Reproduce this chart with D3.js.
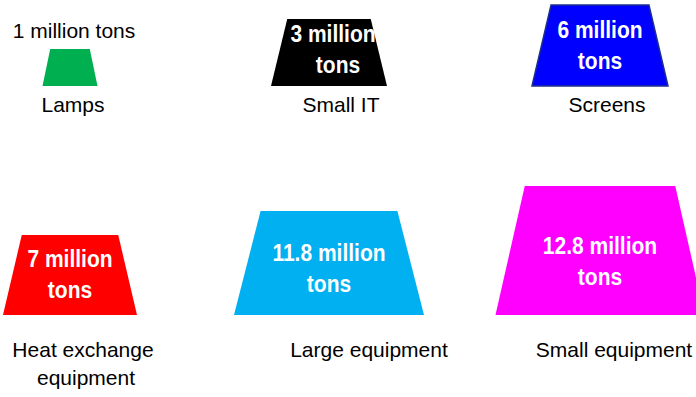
<!DOCTYPE html>
<html>
<head>
<meta charset="utf-8">
<script src="https://cdn.jsdelivr.net/npm/d3@7/dist/d3.min.js"></script>
<style>
	body { margin: 0; background: #fff; }
	text { font-family: "Liberation Sans", Arial, sans-serif; }
</style>
</head>
<body>
<div id="chart"></div>
<script>
// e-waste by category, million tons
var categories = [["Lamps"], ["Small IT"], ["Screens"], ["Heat exchange", "equipment"], ["Large equipment"], ["Small equipment"]];
var tons = [1, 3, 6, 7, 11.8, 12.8];
var colors = ["#00b050", "#000000", "#0000ff", "#ff0000", "#00b0f0", "#ff00ff"];

var width = 696, height = 397;

var svg = d3.select("#chart")
	.append("svg")
	.attr("width", width)
	.attr("height", height)

// grid: 3 columns, 2 rows
var items = tons.map(function (t, i) {
	return { name: categories[i], tons: t, color: colors[i], col: i % 3, row: Math.floor(i / 3) };
});

var colX = d3.scaleOrdinal().domain([0, 1, 2]).range([70, 329, 600]);
var rowBase = d3.scaleOrdinal().domain([0, 1]).range([86, 315]);
var labelX = [d3.scaleOrdinal().domain([0, 1, 2]).range([73, 341, 607]),
	d3.scaleOrdinal().domain([0, 1, 2]).range([83, 369, 614])];
var labelY = d3.scaleOrdinal().domain([0, 1]).range([112, 357]);

// shape size is not strictly proportional in the original, so use a polylinear scale
var hScale = d3.scaleLinear().domain(tons).range([37, 67, 81, 80, 104, 129]);
var wScale = d3.scaleLinear().domain(tons).range([55, 116, 136, 134, 190, 209]);
var topRatio = 0.72;
var stretch = 1.13; // bold labels are drawn a bit taller than wide

function trapezoid(d) {
	var cx = colX(d.col), yb = rowBase(d.row);
	var h = hScale(d.tons), wb = wScale(d.tons), wt = wb * topRatio;
	return "M" + (cx - wt / 2) + "," + (yb - h) +
		"L" + (cx + wt / 2) + "," + (yb - h) +
		"L" + (cx + wb / 2) + "," + yb +
		"L" + (cx - wb / 2) + "," + yb + "Z";
}

var g = svg.append("g")

g.selectAll(".shape")
	.data(items)
	.enter()
	.append("path")
	.attr("class", "shape")
	.attr("d", trapezoid)
	.attr("fill", function (d) { return d.color; })
	.attr("stroke", function (d) { return d.color == "#0000ff" ? "#1c2f8c" : "none"; })
	.attr("stroke-width", 1.5)

// value text: inside the shape, except for the smallest one
var inside = items.filter(function (d) { return d.tons > 1; });
var outside = items.filter(function (d) { return d.tons <= 1; });

var vt = g.selectAll(".value")
	.data(inside)
	.enter()
	.append("text")
	.attr("class", "value")
	.attr("text-anchor", "middle")
	.attr("fill", "#fff")
	.attr("font-weight", "bold")
	.attr("font-size", 21)
	.attr("transform", function (d) {
		var y = rowBase(d.row) - 27 - 0.26 * hScale(d.tons);
		return "translate(" + colX(d.col) + "," + y + ") scale(1," + stretch + ")";
	})

vt.append("tspan")
	.attr("x", function (d) { return d.tons == 3 ? 4 : 0; })
	.text(function (d) { return d.tons + " million"; })
vt.append("tspan")
	.attr("x", function (d) { return d.tons == 3 ? 9 : 0; })
	.attr("dy", 31 / stretch)
	.text("tons")

g.selectAll(".valueOut")
	.data(outside)
	.enter()
	.append("text")
	.attr("class", "valueOut")
	.attr("text-anchor", "middle")
	.attr("font-size", 21)
	.attr("fill", "#000")
	.attr("x", function (d) { return colX(d.col) + 4; })
	.attr("y", function (d) { return rowBase(d.row) - hScale(d.tons) - 11; })
	.text(function (d) { return d.tons + " million tons"; })

// category labels
var lt = g.selectAll(".label")
	.data(items)
	.enter()
	.append("text")
	.attr("class", "label")
	.attr("text-anchor", "middle")
	.attr("font-size", 21)
	.attr("fill", "#000")
	.attr("y", function (d) { return labelY(d.row); })

lt.selectAll("tspan")
	.data(function (d) {
		return d.name.map(function (s, k) { return { s: s, k: k, d: d }; });
	})
	.enter()
	.append("tspan")
	.attr("x", function (e) { return labelX[e.d.row](e.d.col) + (e.k ? 3 : 0); })
	.attr("dy", function (e) { return e.k ? 28 : 0; })
	.text(function (e) { return e.s; })
</script>
</body>
</html>
